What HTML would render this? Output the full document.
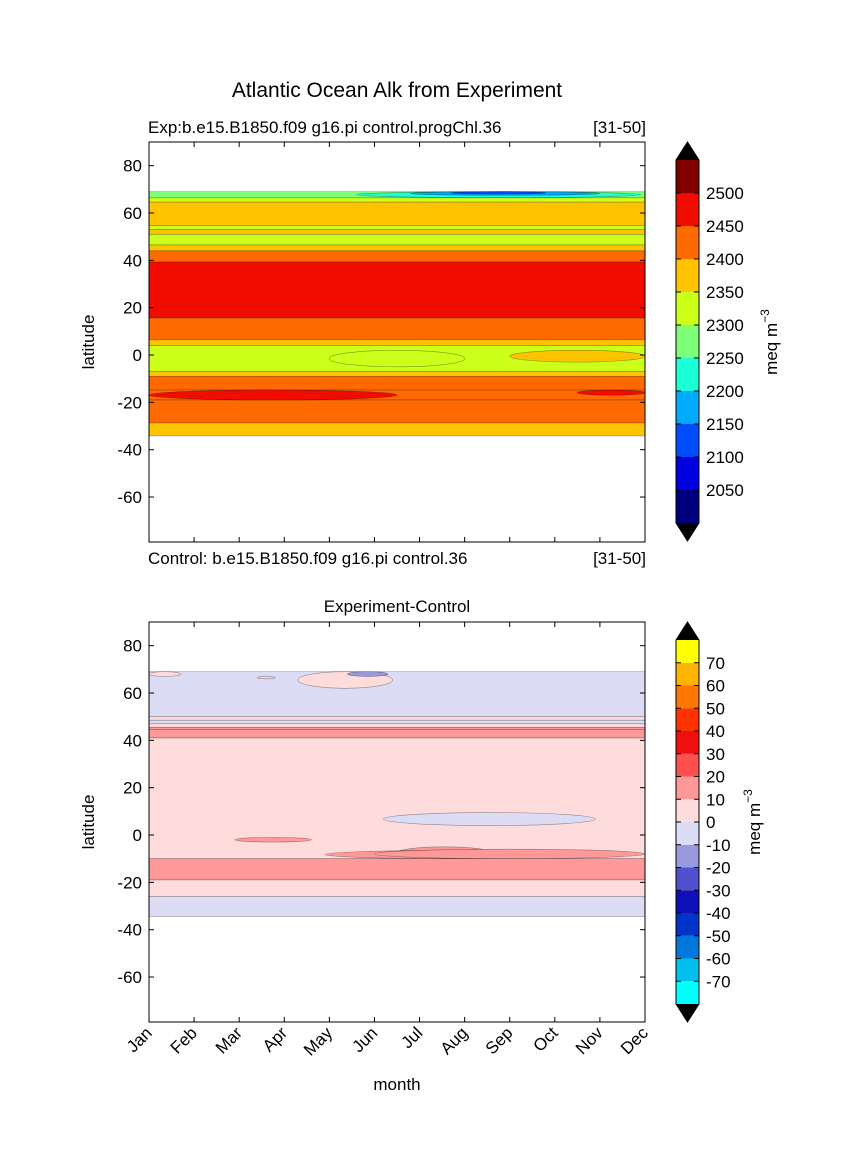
<!DOCTYPE html>
<html><head><meta charset="utf-8"><style>
body{margin:0;background:#fff}
svg{display:block;font-family:"Liberation Sans","DejaVu Sans",sans-serif}
</style></head><body>
<svg id="fig" width="865" height="1174">
<text x="397" y="97" text-anchor="middle" font-size="21">Atlantic Ocean Alk from Experiment</text>
<text x="148" y="133" font-size="17">Exp:b.e15.B1850.f09 g16.pi control.progChl.36</text>
<text x="646" y="133" font-size="17" text-anchor="end">[31-50]</text>
<text x="148" y="564" font-size="17">Control: b.e15.B1850.f09 g16.pi control.36</text>
<text x="646" y="564" font-size="17" text-anchor="end">[31-50]</text>
<text x="397" y="612" font-size="17" text-anchor="middle">Experiment-Control</text>
<text x="397" y="1090" font-size="17" text-anchor="middle">month</text>
<text transform="translate(94,342) rotate(-90)" font-size="17" text-anchor="middle">latitude</text>
<text transform="translate(94,822) rotate(-90)" font-size="17" text-anchor="middle">latitude</text>
<text transform="translate(777,342) rotate(-90)" font-size="17" text-anchor="middle">meq m<tspan dy="-8" font-size="12">−3</tspan></text>
<text transform="translate(760,822) rotate(-90)" font-size="17" text-anchor="middle">meq m<tspan dy="-8" font-size="12">−3</tspan></text>
</svg>
<script>
const months=['Jan','Feb','Mar','Apr','May','Jun','Jul','Aug','Sep','Oct','Nov','Dec'];
const latTicks=[80,60,40,20,0,-20,-40,-60];
const topLevels=[2000,2050,2100,2150,2200,2250,2300,2350,2400,2450,2500,2550];
const topColors=['#00007f','#0000e0','#004cff','#00aaff','#1affd5','#7dff7a','#ccff1a','#ffc400','#ff6a00','#f10c00','#800000'];
const topBandTop=[69,66.4,64.6,54.6,53,51,46.5,44,39.3,15.6,6.4,4,-7,-9,-14.8,-19,-28.7];
const topBandBot=[66.4,64.6,54.6,53,51,46.5,44,39.3,15.6,6.4,4,-7,-9,-14.8,-19,-28.7,-34.2];
const topBandVal=[2270,2320,2370,2320,2370,2320,2370,2420,2470,2420,2370,2320,2370,2420,2420,2420,2370];
const topPatchM0=[4.6,5.8,6.7,0,9.5,4.0,8.0];
const topPatchM1=[10.9,10.0,8.8,5.5,11,7.0,11];
const topPatchLat0=[69,69,69,-14.8,-14.8,2,2];
const topPatchLat1=[66.5,67.5,68,-19,-17,-5,-3];
const topPatchVal=[2220,2170,2120,2470,2470,2320,2370];
const difLevels=[-80,-70,-60,-50,-40,-30,-20,-10,0,10,20,30,40,50,60,70,80];
const difColors=['#00ffff','#00c0ee','#0077dd','#0033cc','#1010bb','#5050cc','#9999dd','#dcdcf4','#ffdcdc','#ff9999','#ff5050','#ee1010','#ff3300','#ff7700','#ffb300','#ffff00'];
const difBandTop=[69,50,48.5,47,45.5,44.6,41,-10,-19,-26];
const difBandBot=[50,48.5,47,45.5,44.6,41,-10,-19,-26,-34.5];
const difBandVal=[-5,5,-5,5,15,15,5,15,5,-5];
const difPatchM0=[3.3,2.4,4.4,0,5.5,5.2,1.9,3.9,5.0];
const difPatchM1=[5.4,2.8,5.3,0.7,7.6,9.9,3.6,9.4,11];
const difPatchLat0=[69,67,69,69,-5,9.5,-1,-6.5,-6];
const difPatchLat1=[62,66,67,67,-10,4,-3,-10,-10];
const difPatchVal=[5,5,-15,5,15,-5,15,15,15];

const NS='http://www.w3.org/2000/svg';
const svg=document.getElementById('fig');
function mk(t,a,p){const e=document.createElementNS(NS,t);for(const k in a)e.setAttribute(k,a[k]);(p||svg).appendChild(e);return e;}
const X0=149,X1=645;
function xM(m){return X0+(X1-X0)*m/11;}
function colorFor(v,levels,colors){for(let i=0;i<levels.length-1;i++){if(v>=levels[i]&&v<levels[i+1])return colors[i];}return colors[colors.length-1];}

function panel(yTop,name,bT,bB,bV,pM0,pM1,pL0,pL1,pV,levels,colors,xlabels){
  const Y0=yTop,Y1=yTop+400;
  const yL=l=>Y0+(90-l)*(400/169);
  const g=mk('g',{});
  
  
  for(let i=0;i<bV.length;i++){
    const r=mk('rect',{x:X0,y:yL(bT[i]),width:X1-X0,height:yL(bB[i])-yL(bT[i]),fill:colorFor(bV[i],levels,colors),stroke:'rgba(0,0,0,0.35)','stroke-width':0.6},g);
    
    
  }
  for(let i=0;i<pV.length;i++){
    const cx=(xM(pM0[i])+xM(pM1[i]))/2, cy=(yL(pL0[i])+yL(pL1[i]))/2;
    const e=mk('ellipse',{cx:cx,cy:cy,rx:(xM(pM1[i])-xM(pM0[i]))/2,ry:(yL(pL1[i])-yL(pL0[i]))/2,fill:colorFor(pV[i],levels,colors),stroke:'rgba(0,0,0,0.4)','stroke-width':0.6},g);
    
    
  }
  const f=mk('rect',{x:X0,y:Y0,width:X1-X0,height:400,fill:'none',stroke:'#000','stroke-width':1},g);
  
  
  latTicks.forEach(l=>{
    const y=yL(l);
    mk('line',{x1:X0,x2:X0+5,y1:y,y2:y,stroke:'#000'},g);
    mk('line',{x1:X1-5,x2:X1,y1:y,y2:y,stroke:'#000'},g);
    const t=mk('text',{x:X0-7,y:y+6,'text-anchor':'end','font-size':17},g);
    t.textContent=l;
    
    
  });
  months.forEach((m,i)=>{
    const x=xM(i);
    mk('line',{x1:x,x2:x,y1:Y1,y2:Y1-5,stroke:'#000'},g);
    mk('line',{x1:x,x2:x,y1:Y0,y2:Y0+5,stroke:'#000'},g);
    if(xlabels){
      const t=mk('text',{transform:`translate(${x+4},${Y1+12}) rotate(-45)`,'text-anchor':'end','font-size':17},g);
      t.textContent=m;
      
      
    }
  });
}
function colorbar(yTop,yBot,name,levels,colors,labels){
  const x=676,w=23,n=colors.length,h=(yBot-yTop)/n;
  const g=mk('g',{});
  
  
  colors.forEach((c,i)=>{mk('rect',{x:x,y:yBot-(i+1)*h,width:w,height:h,fill:c},g);});
  mk('polygon',{points:`${x},${yTop} ${x+w},${yTop} ${x+w/2},${yTop-18}`,fill:'#000'},g);
  mk('polygon',{points:`${x},${yBot} ${x+w},${yBot} ${x+w/2},${yBot+18}`,fill:'#000'},g);
  mk('polygon',{points:`${x},${yTop} ${x+w/2},${yTop-18} ${x+w},${yTop} ${x+w},${yBot} ${x+w/2},${yBot+18} ${x},${yBot}`,fill:'none',stroke:'#000'},g);
  labels.forEach(v=>{
    const i=levels.indexOf(v);const y=yBot-i*h;
    mk('line',{x1:x,x2:x+5,y1:y,y2:y,stroke:'#000'},g);
    mk('line',{x1:x+w-5,x2:x+w,y1:y,y2:y,stroke:'#000'},g);
    const t=mk('text',{x:x+w+7,y:y+6,'font-size':17},g);
    t.textContent=v;
    
    
  });
}
panel(142,'experiment-contour-plot',topBandTop,topBandBot,topBandVal,topPatchM0,topPatchM1,topPatchLat0,topPatchLat1,topPatchVal,topLevels,topColors,false);
panel(622,'difference-contour-plot',difBandTop,difBandBot,difBandVal,difPatchM0,difPatchM1,difPatchLat0,difPatchLat1,difPatchVal,difLevels,difColors,true);
colorbar(160,523,'experiment-colorbar',topLevels,topColors,[2050,2100,2150,2200,2250,2300,2350,2400,2450,2500]);
colorbar(640,1004,'difference-colorbar',difLevels,difColors,[-70,-60,-50,-40,-30,-20,-10,0,10,20,30,40,50,60,70]);
</script>
</body></html>
